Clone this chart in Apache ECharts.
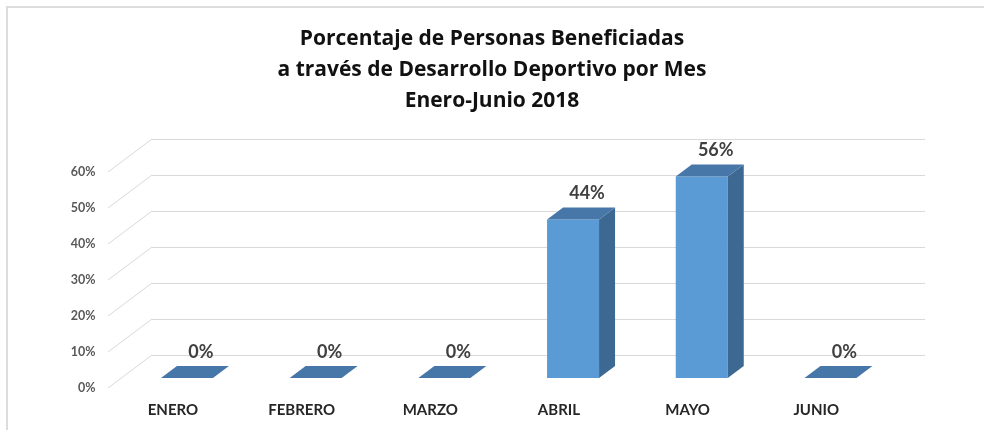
<!DOCTYPE html>
<html>
<head>
<meta charset="utf-8">
<script src="https://cdn.jsdelivr.net/npm/echarts@6/dist/echarts.min.js"></script>
<style>
  html, body { margin: 0; padding: 0; background: #fff; }
  #chart { width: 984px; height: 430px; }
</style>
</head>
<body>
<div id="chart"></div>
<script>
  // datos del grafico
  const months = ['ENERO', 'FEBRERO', 'MARZO', 'ABRIL', 'MAYO', 'JUNIO']
  const percents = [0, 0, 0, 44, 56, 0]
  const yTicks = [0, 10, 20, 30, 40, 50, 60]

  const titleText = 'Porcentaje de Personas Beneficiadas\na través de Desarrollo Deportivo por Mes\nEnero-Junio 2018'

  // profundidad 3D
  const floorDx = 44, floorDy = -33
  const barDx = 16, barDy = -12

  const chart = echarts.init(document.getElementById('chart'))

  const renderBar = (params, api) => {
    const i = api.value(0)
    const v = api.value(1)
    const top = api.coord([i, v])
    const base = api.coord([i, 0])
    const w = api.size([1, 0])[0] * 0.404
    const x0 = top[0] - w / 2
    const x1 = top[0] + w / 2
    const yt = top[1]
    const yb = base[1]
    const children = []
    if (yb - yt > 0.5) {
      children.push({
        type: 'rect',
        shape: { x: x0, y: yt, width: w, height: yb - yt },
        style: { fill: '#5b9bd5' }
      })
      children.push({
        type: 'polygon',
        shape: { points: [[x1, yt], [x1 + barDx, yt + barDy], [x1 + barDx, yb + barDy], [x1, yb]] },
        style: { fill: '#3c6891' }
      })
    }
    children.push({
      type: 'polygon',
      shape: { points: [[x0, yt], [x0 + barDx, yt + barDy], [x1 + barDx, yt + barDy], [x1, yt]] },
      style: { fill: '#4677a8' }
    })
    children.push({
      type: 'text',
      style: {
        text: v + '%',
        x: top[0] + 14,
        y: yt - 26,
        align: 'center',
        verticalAlign: 'middle',
        font: 'bold 18px Lato',
        fill: '#404040'
      }
    })
    return { type: 'group', children }
  }

  const renderDiag = (params, api) => {
    const v = api.value(0)
    const p = api.coord([0, v])
    const sx = params.coordSys.x
    return {
      type: 'line',
      shape: { x1: sx - floorDx, y1: p[1] - floorDy, x2: sx, y2: p[1] },
      style: { stroke: '#d9d9d9', lineWidth: 1 }
    }
  }

  chart.setOption({
    animation: false,
    title: {
      text: titleText,
      left: 'center',
      top: 19,
      textStyle: {
        fontFamily: 'Open Sans',
        fontSize: 21,
        fontWeight: 'bold',
        lineHeight: 31,
        color: '#111'
      }
    },
    graphic: [
      { type: 'line', shape: { x1: 6, y1: 7, x2: 984, y2: 7 }, style: { stroke: '#dcdcdc', lineWidth: 2 } },
      { type: 'line', shape: { x1: 7, y1: 7, x2: 7, y2: 430 }, style: { stroke: '#dcdcdc', lineWidth: 2 } }
    ],
    grid: [
      // cara frontal de las barras
      { left: 122.6, right: 89.2, top: 162, bottom: 52 },
      // pared del fondo
      { left: 152, right: 59, top: 139, bottom: 75 },
      // plano de las etiquetas
      { left: 108.6, right: 103.4, top: 172, bottom: 42 }
    ],
    xAxis: [
      { gridIndex: 0, type: 'category', data: months, show: false },
      { gridIndex: 1, type: 'category', data: months, show: false },
      {
        gridIndex: 2, type: 'category', data: months,
        axisLine: { show: false }, axisTick: { show: false },
        axisLabel: { margin: 15, fontFamily: 'Lato', fontSize: 15, fontWeight: 'bold', color: '#262626' }
      }
    ],
    yAxis: [
      { gridIndex: 0, type: 'value', min: 0, max: 60, show: false },
      {
        gridIndex: 1, type: 'value', min: 0, max: 60, interval: 10,
        axisLine: { show: false }, axisTick: { show: false }, axisLabel: { show: false },
        splitLine: { lineStyle: { color: '#d9d9d9', width: 1 } }
      },
      {
        gridIndex: 2, type: 'value', min: 0, max: 60, interval: 10,
        axisLine: { show: false }, axisTick: { show: false }, splitLine: { show: false },
        axisLabel: { margin: 13, formatter: '{value}%', fontFamily: 'Lato', fontSize: 12.5, fontWeight: 'bold', color: '#595959' }
      }
    ],
    series: [
      {
        type: 'custom',
        xAxisIndex: 1,
        yAxisIndex: 1,
        renderItem: renderDiag,
        data: yTicks.map(t => [t]),
        silent: true
      },
      {
        type: 'custom',
        xAxisIndex: 0,
        yAxisIndex: 0,
        renderItem: renderBar,
        data: percents.map((v, i) => [i, v]),
        z: 5
      }
    ]
  })
</script>
</body>
</html>
